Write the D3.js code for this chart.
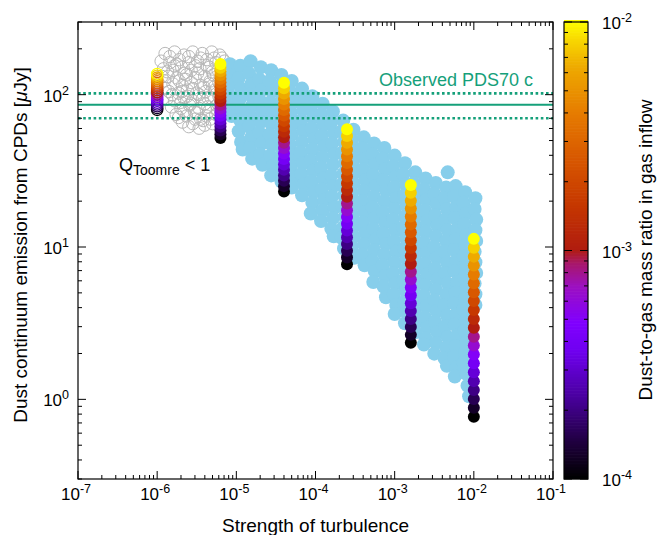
<!DOCTYPE html>
<html>
<head>
<meta charset="utf-8">
<style>
  body { margin: 0; background: #fff; }
  svg { font-family: "Liberation Sans", Arial, Helvetica, sans-serif; }
</style>
<script src="https://cdn.jsdelivr.net/npm/d3@7"></script>
</head>
<body>
<svg width="657" height="535"></svg>
<script>
// turbulence strength of the colour-coded model columns
const alphaCols = [1e-6, 6.3e-6, 4e-5, 2.5e-4, 1.6e-3, 1e-2];

// dust-to-gas ratio of each dot in a column (bottom -> top)
const dustRatio = [1.00e-4, 1.26e-4, 1.58e-4, 2.00e-4, 2.51e-4, 3.16e-4, 3.98e-4, 5.01e-4, 6.31e-4, 7.94e-4,
  1.00e-3, 1.26e-3, 1.58e-3, 2.00e-3, 2.51e-3, 3.16e-3, 3.98e-3, 5.01e-3, 6.31e-3, 7.94e-3, 1.00e-2];

// flux [uJy] of each column, same order as dustRatio
const fluxA1 = [79.4, 81.6, 83.9, 86.1, 88.5, 91.0, 93.5, 96.1, 98.7, 101.4, 104.2, 107.1, 110.1, 113.1, 116.2, 119.4, 122.7, 126.1, 129.5, 133.1, 136.8];
const fluxA2 = [52.0, 55.0, 58.2, 61.5, 65.0, 68.8, 72.8, 76.9, 81.3, 86.0, 91.0, 96.2, 101.8, 107.6, 113.8, 120.4, 127.3, 134.6, 142.3, 150.5, 159.2];
const fluxA3 = [23.1, 25.1, 27.2, 29.5, 32.1, 34.8, 37.8, 41.1, 44.6, 48.4, 52.6, 57.1, 62.1, 67.3, 73.1, 79.4, 86.3, 93.7, 101.7, 110.4, 119.9];
const fluxA4 = [7.71, 8.54, 9.46, 10.47, 11.60, 12.85, 14.23, 15.75, 17.44, 19.32, 21.39, 23.68, 26.22, 29.04, 32.16, 35.61, 39.43, 43.66, 48.34, 53.53, 59.29];
const fluxA5 = [2.35, 2.65, 2.99, 3.37, 3.80, 4.28, 4.82, 5.43, 6.12, 6.89, 7.76, 8.74, 9.85, 11.09, 12.50, 14.08, 15.86, 17.87, 20.13, 22.68, 25.55];
const fluxA6 = [0.769, 0.880, 1.006, 1.151, 1.317, 1.506, 1.723, 1.971, 2.254, 2.579, 2.950, 3.374, 3.860, 4.415, 5.050, 5.777, 6.608, 7.559, 8.647, 9.891, 11.31];
const fluxCols = [fluxA1, fluxA2, fluxA3, fluxA4, fluxA5, fluxA6];

// Toomre-unstable models (open grey): [log10 alpha, log10 flux]
const grayLog = [
  [-5.90,2.27],[-5.78,2.28],[-5.66,2.26],[-5.55,2.28],[-5.43,2.27],[-5.31,2.28],[-5.21,2.26],
  [-5.95,2.22],[-5.84,2.21],[-5.72,2.23],[-5.60,2.21],[-5.49,2.22],[-5.37,2.23],[-5.26,2.21],[-5.15,2.22],
  [-5.92,2.17],[-5.80,2.16],[-5.69,2.18],[-5.57,2.16],[-5.46,2.17],[-5.34,2.18],[-5.23,2.16],[-5.12,2.17],
  [-5.86,2.12],[-5.75,2.11],[-5.63,2.13],[-5.52,2.11],[-5.40,2.12],[-5.29,2.13],[-5.17,2.11],
  [-5.80,2.07],[-5.68,2.06],[-5.57,2.08],[-5.45,2.06],[-5.34,2.07],[-5.22,2.08],[-5.13,2.06],
  [-5.85,2.02],[-5.73,2.01],[-5.62,2.03],[-5.50,2.01],[-5.39,2.02],[-5.27,2.03],[-5.16,2.01],
  [-5.88,1.97],[-5.78,1.96],[-5.66,1.98],[-5.55,1.96],[-5.43,1.97],[-5.32,1.98],[-5.20,1.96],
  [-5.82,1.92],[-5.70,1.91],[-5.59,1.93],[-5.47,1.91],[-5.36,1.92],[-5.25,1.93],[-5.14,1.91],
  [-5.76,1.87],[-5.63,1.86],[-5.50,1.88],[-5.38,1.86],[-5.26,1.87],
  [-5.68,1.82],[-5.55,1.81],[-5.42,1.83],[-5.30,1.81],[-5.60,1.79],[-5.47,1.78],
  [-5.84,2.25],[-5.60,2.25],[-5.37,2.19],[-5.49,2.14],[-5.72,2.09],[-5.28,2.05],[-5.62,1.99],
  [-5.40,1.94],[-5.53,1.89],[-5.78,2.19],[-5.66,2.14],[-5.45,2.24],[-5.19,2.19],[-5.33,2.09],
  [-5.55,2.04],[-5.70,1.95],[-5.22,1.99],[-5.45,1.84],[-5.35,1.89],[-5.90,2.04],[-5.18,2.24],[-5.94,2.12],
  [-5.87,2.15],[-5.75,2.20],[-5.64,2.10],[-5.52,2.19],[-5.41,2.05],[-5.30,2.15],[-5.15,2.14],
  [-5.81,2.00],[-5.69,2.02],[-5.58,1.94],[-5.47,2.00],[-5.36,1.98],[-5.24,1.90],[-5.12,2.03],
  [-5.66,1.89],[-5.52,1.84],[-5.40,1.80],[-5.33,1.84],[-5.73,1.85],[-5.91,2.09],[-5.28,2.24]
];

// all other models (sky blue): [log10 alpha, log10 flux]
const blueLog = [
  [-5.08,2.20],[-5.06,2.13],[-5.09,2.06],[-5.07,1.99],[-5.08,1.92],[-5.06,1.86],
  [-4.95,2.19],[-4.97,2.11],[-4.94,2.04],[-4.96,1.97],[-4.93,1.90],[-4.95,1.83],[-4.97,1.76],[-4.94,1.69],[-4.92,1.64],
  [-4.82,2.22],[-4.84,2.14],[-4.81,2.07],[-4.83,2.00],[-4.80,1.93],[-4.82,1.86],[-4.84,1.79],[-4.81,1.72],[-4.83,1.65],[-4.80,1.58],
  [-4.69,2.18],[-4.71,2.10],[-4.68,2.03],[-4.70,1.96],[-4.67,1.89],[-4.69,1.82],[-4.71,1.75],[-4.68,1.68],[-4.70,1.61],[-4.67,1.54],
  [-4.56,2.16],[-4.58,2.09],[-4.55,2.02],[-4.57,1.95],[-4.54,1.88],[-4.56,1.81],[-4.58,1.74],[-4.55,1.67],[-4.57,1.60],[-4.54,1.53],[-4.56,1.47],
  [-4.43,2.13],[-4.45,2.06],[-4.42,1.99],[-4.44,1.92],[-4.41,1.85],[-4.43,1.78],[-4.45,1.71],[-4.42,1.64],[-4.44,1.57],[-4.41,1.50],[-4.43,1.43],
  [-4.30,2.09],[-4.32,2.02],[-4.29,1.95],[-4.31,1.88],[-4.28,1.81],[-4.30,1.74],[-4.32,1.67],[-4.29,1.60],[-4.31,1.53],[-4.28,1.46],[-4.30,1.39],
  [-4.17,2.04],[-4.19,1.97],[-4.16,1.90],[-4.18,1.83],[-4.15,1.76],[-4.17,1.69],[-4.19,1.62],[-4.16,1.55],[-4.18,1.48],[-4.15,1.41],[-4.17,1.34],
  [-4.04,1.99],[-4.06,1.92],[-4.03,1.85],[-4.05,1.78],[-4.02,1.71],[-4.04,1.64],[-4.06,1.57],[-4.03,1.50],[-4.05,1.43],[-4.02,1.36],[-4.04,1.29],[-4.06,1.22],
  [-3.91,1.94],[-3.93,1.87],[-3.90,1.80],[-3.92,1.73],[-3.89,1.66],[-3.91,1.59],[-3.93,1.52],[-3.90,1.45],[-3.92,1.38],[-3.89,1.31],[-3.91,1.24],[-3.93,1.17],
  [-3.78,1.89],[-3.80,1.82],[-3.77,1.75],[-3.79,1.68],[-3.76,1.61],[-3.78,1.54],[-3.80,1.47],[-3.77,1.40],[-3.79,1.33],[-3.76,1.26],[-3.78,1.19],[-3.80,1.12],[-3.77,1.07],
  [-3.65,1.83],[-3.67,1.76],[-3.64,1.69],[-3.66,1.62],[-3.63,1.55],[-3.65,1.48],[-3.67,1.41],[-3.64,1.34],[-3.66,1.27],[-3.63,1.20],[-3.65,1.13],[-3.67,1.06],[-3.64,0.99],
  [-3.52,1.77],[-3.54,1.70],[-3.51,1.63],[-3.53,1.56],[-3.50,1.49],[-3.52,1.42],[-3.54,1.35],[-3.51,1.28],[-3.53,1.21],[-3.50,1.14],[-3.52,1.07],[-3.54,1.00],[-3.51,0.93],
  [-3.39,1.72],[-3.41,1.65],[-3.38,1.58],[-3.40,1.51],[-3.37,1.44],[-3.39,1.37],[-3.41,1.30],[-3.38,1.23],[-3.40,1.16],[-3.37,1.09],[-3.39,1.02],[-3.41,0.95],[-3.38,0.88],
  [-3.26,1.68],[-3.28,1.61],[-3.25,1.54],[-3.27,1.47],[-3.24,1.40],[-3.26,1.33],[-3.28,1.26],[-3.25,1.19],[-3.27,1.12],[-3.24,1.05],[-3.26,0.98],[-3.28,0.91],[-3.25,0.84],[-3.27,0.77],
  [-3.13,1.65],[-3.15,1.58],[-3.12,1.51],[-3.14,1.44],[-3.11,1.37],[-3.13,1.30],[-3.15,1.23],[-3.12,1.16],[-3.14,1.09],[-3.11,1.02],[-3.13,0.95],[-3.15,0.88],[-3.12,0.81],[-3.14,0.74],[-3.11,0.67],
  [-3.00,1.60],[-3.02,1.53],[-2.99,1.46],[-3.01,1.39],[-2.98,1.32],[-3.00,1.25],[-3.02,1.18],[-2.99,1.11],[-3.01,1.04],[-2.98,0.97],[-3.00,0.90],[-3.02,0.83],[-2.99,0.76],[-3.01,0.69],[-2.98,0.62],[-3.00,0.56],
  [-2.87,1.55],[-2.89,1.48],[-2.86,1.41],[-2.88,1.34],[-2.85,1.27],[-2.87,1.20],[-2.89,1.13],[-2.86,1.06],[-2.88,0.99],[-2.85,0.92],[-2.87,0.85],[-2.89,0.78],[-2.86,0.71],[-2.88,0.64],[-2.85,0.57],[-2.87,0.50],
  [-2.74,1.49],[-2.76,1.42],[-2.73,1.35],[-2.75,1.28],[-2.72,1.21],[-2.74,1.14],[-2.76,1.07],[-2.73,1.00],[-2.75,0.93],[-2.72,0.86],[-2.74,0.79],[-2.76,0.72],[-2.73,0.65],[-2.75,0.58],[-2.72,0.51],[-2.74,0.44],
  [-2.61,1.45],[-2.63,1.38],[-2.60,1.31],[-2.62,1.24],[-2.59,1.17],[-2.61,1.10],[-2.63,1.03],[-2.60,0.96],[-2.62,0.89],[-2.59,0.82],[-2.61,0.75],[-2.63,0.68],[-2.60,0.61],[-2.62,0.54],[-2.59,0.47],[-2.61,0.40],[-2.63,0.36],
  [-2.48,1.42],[-2.50,1.35],[-2.47,1.28],[-2.49,1.21],[-2.46,1.14],[-2.48,1.07],[-2.50,1.00],[-2.47,0.93],[-2.49,0.86],[-2.46,0.79],[-2.48,0.72],[-2.50,0.65],[-2.47,0.58],[-2.49,0.51],[-2.46,0.44],[-2.48,0.37],[-2.50,0.30],
  [-2.33,1.49],[-2.35,1.39],[-2.37,1.32],[-2.34,1.25],[-2.36,1.18],[-2.33,1.11],[-2.35,1.04],[-2.37,0.97],[-2.34,0.90],[-2.36,0.83],[-2.33,0.76],[-2.35,0.69],[-2.37,0.62],[-2.34,0.55],[-2.36,0.48],[-2.33,0.41],[-2.35,0.34],[-2.37,0.27],[-2.34,0.22],
  [-2.23,1.40],[-2.25,1.33],[-2.22,1.26],[-2.24,1.19],[-2.21,1.12],[-2.23,1.05],[-2.25,0.98],[-2.22,0.91],[-2.24,0.84],[-2.21,0.77],[-2.23,0.70],[-2.25,0.63],[-2.22,0.56],[-2.24,0.49],[-2.21,0.42],[-2.23,0.35],[-2.25,0.28],[-2.22,0.21],[-2.24,0.15],
  [-2.11,1.36],[-2.13,1.29],[-2.10,1.22],[-2.12,1.15],[-2.09,1.08],[-2.11,1.01],[-2.13,0.94],[-2.10,0.87],[-2.12,0.80],[-2.09,0.73],[-2.11,0.66],[-2.13,0.59],[-2.10,0.52],[-2.12,0.45],[-2.09,0.38],[-2.11,0.31],[-2.13,0.24],[-2.10,0.17],[-2.08,0.09],[-2.06,0.02],
  [-1.98,1.32],[-1.99,1.25],[-1.97,1.18],[-1.98,1.11],[-1.97,1.04],[-1.99,0.97],[-1.98,0.90],[-1.97,0.83],[-1.99,0.76],[-1.98,0.69],[-1.98,0.62]
];

// observed PDS70 c flux: low, value, high
const obsFlux = [70, 86, 102];
const obsStyle = ['dot', 'solid', 'dot'];

const xTickExp = ['-7', '-6', '-5', '-4', '-3', '-2', '-1'];
const yTickExp = ['0', '1', '2'];
const cbTickExp = ['-4', '-3', '-2'];

const green = '#15a07a';
const svg = d3.select('svg');

const x = d3.scaleLog().domain([1e-7, 1e-1]).range([78, 553]);
const y = d3.scaleLog().domain([0.3, 300]).range([479, 22]);
const cb = d3.scaleLog().domain([1e-4, 1e-2]).range([479, 22]);

// palette: black - violet - red - orange - yellow
const palT = [0, 0.08, 0.18, 0.28, 0.34, 0.42, 0.47, 0.5, 0.6, 0.7, 0.8, 0.9, 0.96, 1];
const palC = ['#000000', '#200040', '#4a00a0', '#7000f0', '#8000ff', '#9c10c0', '#a8186a', '#b01c10',
  '#c63800', '#d85800', '#e67c00', '#eeaa00', '#f8d800', '#ffff00'];
const pal = d3.scaleLinear().domain(palT).range(palC);
const cT = d3.scaleLog().domain([1e-4, 1e-2]).range([0, 1]).clamp(true);
const color = v => pal(cT(v));

// grey open circles
svg.append('g').selectAll('circle').data(grayLog).join('circle')
    .attr('cx', d => x(10 ** d[0]))
    .attr('cy', d => y(10 ** d[1]))
    .attr('r', 6.2)
    .attr('fill', 'none')
    .attr('stroke', '#b8b8b8')
    .attr('stroke-width', 1);

// sky blue cloud
svg.append('g').selectAll('circle').data(blueLog).join('circle')
    .attr('cx', d => x(10 ** d[0]))
    .attr('cy', d => y(10 ** d[1]))
    .attr('r', 7)
    .attr('fill', '#87ceeb');

// observed flux band
svg.append('g').selectAll('line').data(obsFlux).join('line')
    .attr('x1', 78).attr('x2', 553)
    .attr('y1', d => y(d)).attr('y2', d => y(d))
    .attr('stroke', green)
    .attr('stroke-width', (d, i) => obsStyle[i] === 'dot' ? 2.6 : 2)
    .attr('stroke-dasharray', (d, i) => obsStyle[i] === 'dot' ? '2.6,2.6' : null);

svg.append('text')
    .attr('x', 533).attr('y', 86)
    .attr('text-anchor', 'end')
    .attr('font-size', 18)
    .attr('fill', green)
    .text('Observed PDS70 c');

// colour-coded columns
alphaCols.forEach((a, i) => {
    const pts = fluxCols[i].map((f, k) => ({ f: f, r: dustRatio[k] }));
    const open = i === 0;
    svg.append('g').selectAll('circle').data(pts).join('circle')
        .attr('cx', x(a))
        .attr('cy', d => y(d.f))
        .attr('r', open ? 5.6 : 6)
        .attr('fill', d => open ? 'none' : color(d.r))
        .attr('stroke', d => open ? color(d.r) : 'none')
        .attr('stroke-width', 1.3);
});

// Q_Toomre label
const q = svg.append('text').attr('x', 119).attr('y', 171).attr('font-size', 18).attr('fill', '#000');
q.append('tspan').text('Q');
q.append('tspan').attr('font-size', 14).attr('dy', 4).text('Toomre');
q.append('tspan').attr('dy', -4).text(' < 1');

// frame
svg.append('rect')
    .attr('x', 78).attr('y', 22)
    .attr('width', 475).attr('height', 457)
    .attr('fill', 'none').attr('stroke', '#000').attr('stroke-width', 1.2);

const isMajor = v => Math.abs(Math.log10(v) - Math.round(Math.log10(v))) < 1e-6;
const ticks = svg.append('g').attr('stroke', '#000').attr('stroke-width', 1);

x.ticks().forEach(t => {
    const len = isMajor(t) ? 8 : 4;
    ticks.append('line').attr('x1', x(t)).attr('x2', x(t)).attr('y1', 479).attr('y2', 479 - len);
    ticks.append('line').attr('x1', x(t)).attr('x2', x(t)).attr('y1', 22).attr('y2', 22 + len);
});
y.ticks().forEach(t => {
    const len = isMajor(t) ? 8 : 4;
    ticks.append('line').attr('y1', y(t)).attr('y2', y(t)).attr('x1', 78).attr('x2', 78 + len);
    ticks.append('line').attr('y1', y(t)).attr('y2', y(t)).attr('x1', 553).attr('x2', 553 - len);
});

function powLabel(px, py, exp, anchor) {
    const t = svg.append('text')
        .attr('x', px).attr('y', py)
        .attr('text-anchor', anchor)
        .attr('font-size', 17);
    t.append('tspan').text('10');
    t.append('tspan').attr('dy', -7).attr('font-size', 12.5).text(exp);
}

xTickExp.forEach(e => powLabel(x(10 ** +e) - 2, 500, e, 'middle'));
yTickExp.forEach(e => powLabel(69, y(10 ** +e) + 7, e, 'end'));

// axis titles
svg.append('text')
    .attr('x', 315.5).attr('y', 532)
    .attr('text-anchor', 'middle')
    .attr('font-size', 19)
    .text('Strength of turbulence');

const yl = svg.append('text')
    .attr('transform', 'translate(27,245) rotate(-90)')
    .attr('text-anchor', 'middle')
    .attr('font-size', 19);
yl.append('tspan').text('Dust continuum emission from CPDs [');
yl.append('tspan').attr('font-style', 'italic').text('\u03bc');
yl.append('tspan').text('Jy]');

// colour bar
const cbX = 564, cbW = 24;
const cbSteps = d3.range(0, 1.0001, 1 / 300);
svg.append('g').selectAll('rect').data(cbSteps).join('rect')
    .attr('x', cbX)
    .attr('y', d => cb(1e-4 * 100 ** d) - 2)
    .attr('width', cbW)
    .attr('height', 2.2)
    .attr('fill', d => pal(d));
svg.append('rect')
    .attr('x', cbX).attr('y', 22)
    .attr('width', cbW).attr('height', 457)
    .attr('fill', 'none').attr('stroke', '#000').attr('stroke-width', 1.2);

cb.ticks().forEach(t => {
    const len = isMajor(t) ? 8 : 4;
    ticks.append('line').attr('y1', cb(t)).attr('y2', cb(t)).attr('x1', cbX).attr('x2', cbX + len);
    ticks.append('line').attr('y1', cb(t)).attr('y2', cb(t)).attr('x1', cbX + cbW).attr('x2', cbX + cbW - len);
});
ticks.raise();
cbTickExp.forEach(e => powLabel(602, cb(10 ** +e) + 7, e, 'start'));

svg.append('text')
    .attr('transform', 'translate(652,250) rotate(-90)')
    .attr('text-anchor', 'middle')
    .attr('font-size', 19)
    .text('Dust-to-gas mass ratio in gas inflow');
</script>
</body>
</html>
